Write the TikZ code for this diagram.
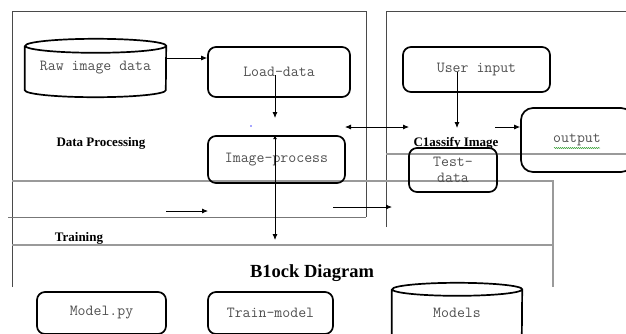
\documentclass[tikz,border=0pt]{standalone}
\usepackage{fontspec}
\setmainfont{Liberation Serif}
\usetikzlibrary{arrows.meta,calc,decorations.pathmorphing}
\definecolor{framedark}{HTML}{4A4A4A}
\definecolor{framemid}{HTML}{777777}
\definecolor{framelight}{HTML}{9A9A9A}
\definecolor{textgrey}{HTML}{505050}
\definecolor{spellgreen}{HTML}{3FA33F}
\newcommand{\blockfont}{\ttfamily\fontsize{15.4}{15.5}\selectfont}
\begin{document}
\begin{tikzpicture}[x=1pt,y=-1pt,
  blockbox/.style={draw=black, line width=1.7pt, rounded corners=8pt,
    font=\blockfont, text=textgrey, inner sep=0pt},
  dbbox/.style={inner sep=0pt, font=\blockfont, text=textgrey},
  cylline/.style={draw=black, line width=1.7pt},
  frameD/.style={draw=framedark, line width=1pt},
  frameM/.style={draw=framemid, line width=1pt},
  frameL/.style={draw=framelight, line width=1.1pt},
  flow/.style={draw=black, line width=0.8pt, -{Latex[length=6pt,width=5pt]}},
  caption/.style={font=\bfseries\fontsize{13}{15}\selectfont, inner sep=0pt},
  titlelbl/.style={font=\bfseries\fontsize{18.5}{20}\selectfont, inner sep=0pt}]

\useasboundingbox (0,0) rectangle (626,333);
\clip (0,0) rectangle (626,333);

% section frames
\draw[frameD] (12,287) -- (12,11) -- (366,11) -- (366,217);
\draw[frameM] (8,217) -- (366,217);
\draw[frameD] (386,227) -- (386,11) -- (626,11);
\draw[frameL] (386,154) -- (626,154);
\draw[frameL] (12,181) -- (553,181) -- (553,287);
\draw[frameL] (12,245) -- (553,245);

% process blocks
\node[blockbox, minimum width=142, minimum height=50] (load) at (279,72) {Load-data};
\node[blockbox, minimum width=137, minimum height=47] (imgproc) at (276.5,159.5) {Image-process};
\node[blockbox, minimum width=147, minimum height=45] (user) at (476.5,69.5) {User input};
\node[blockbox, minimum width=112, minimum height=64, rounded corners=12pt] (out) at (577,140) {output};
\node[blockbox, minimum width=88, minimum height=44, align=center] (test) at (453,170) {Test-\\data};
\node[blockbox, minimum width=129, minimum height=42] (modelpy) at (101.5,313) {Model.py};
\node[blockbox, minimum width=125, minimum height=42] (train) at (270.5,313) {Train-model};

% data stores (cylinders)
\node[dbbox, minimum width=141, minimum height=58] (raw) at (95.5,68) {Raw image data};
\draw[cylline] ([yshift=-7pt]raw.north west) -- ([yshift=7pt]raw.south west)
  arc[start angle=180, end angle=360, x radius=70.5pt, y radius=7pt]
  -- ([yshift=-7pt]raw.north east)
  arc[start angle=0, end angle=360, x radius=70.5pt, y radius=7pt];
\node[dbbox, minimum width=130, minimum height=60] (models) at (457,313) {Models};
\draw[cylline] ([yshift=-6.5pt]models.north west) -- ([yshift=6.5pt]models.south west)
  arc[start angle=180, end angle=360, x radius=65pt, y radius=6.5pt]
  -- ([yshift=-6.5pt]models.north east)
  arc[start angle=0, end angle=360, x radius=65pt, y radius=6.5pt];

% section labels
\node[caption] (lblproc) at (101,143) {Data Processing};
\node[caption] (lblclass) at (456,143) {C1assify Image};
\node[caption] (lbltrain) at (79,238) {Training};
\node[titlelbl] (lbltitle) at (312,273) {B1ock Diagram};

% spell-check underline
\draw[spellgreen, line width=0.5pt, decorate,
  decoration={snake, amplitude=0.6pt, segment length=2pt}] (554,148) -- (600,148);
\fill[blue!70] (251,126) circle[radius=0.9pt];

% connectors
\coordinate (ldfoot) at (275,75);
\coordinate (ldtip) at (275,118);
\coordinate (trainin) at (275,240);
\coordinate (xa) at (345,127);
\coordinate (xb) at (409,127);
\coordinate (uifoot) at (457,72);
\coordinate (uitip) at (457,128);
\coordinate (ostart) at (495,127);
\coordinate (ra) at (333,207);
\coordinate (rb) at (392,207);
\coordinate (la) at (166,211);
\coordinate (lb) at (208,211);

\draw[flow] ([yshift=10pt]raw.east) -- ([yshift=14pt]load.west);
\draw[flow] (ldfoot) -- (ldtip);
\draw[line width=0.8pt, {Latex[length=4pt,width=4pt]}-{Latex[length=6pt,width=5pt]}]
  (imgproc.north -| ldtip) -- (trainin);
\draw[line width=0.8pt, {Latex[length=6pt,width=5pt]}-{Latex[length=6pt,width=5pt]}] (xa) -- (xb);
\draw[flow] (uifoot) -- (uitip);
\draw[flow] (ostart) -- (out.west |- ostart);
\draw[flow] (ra) -- (rb);
\draw[flow] (la) -- (lb);
\end{tikzpicture}
\end{document}
